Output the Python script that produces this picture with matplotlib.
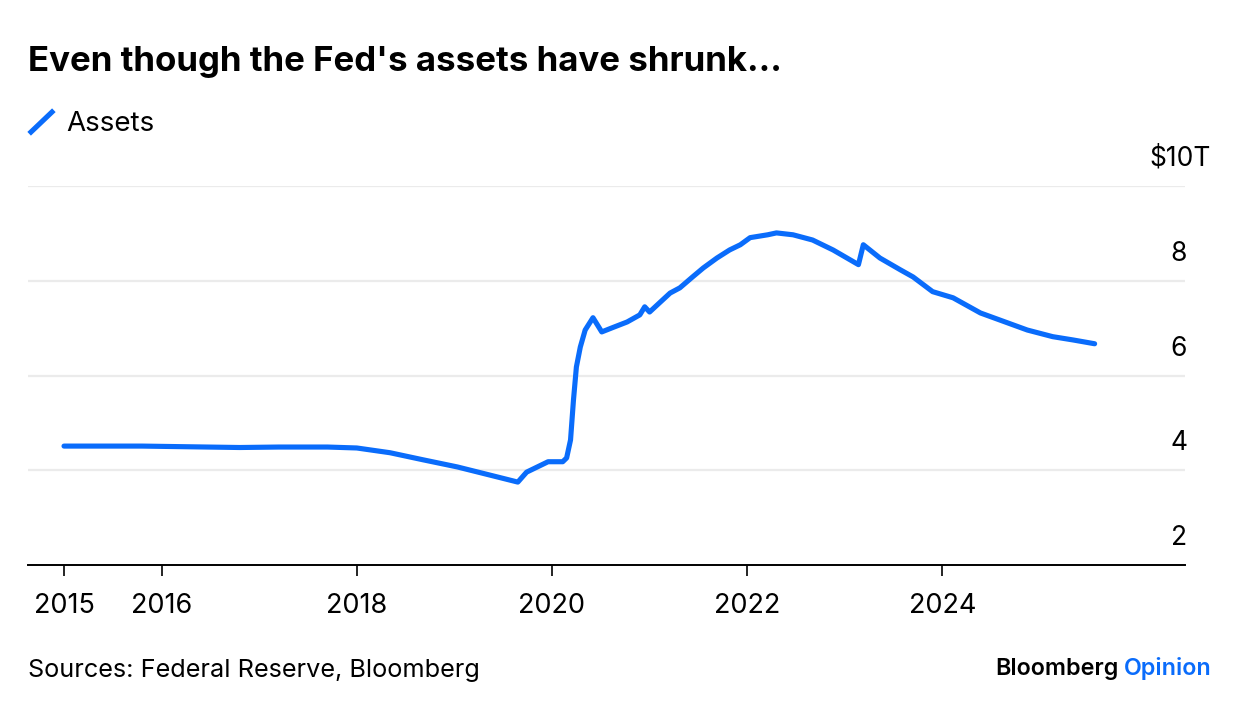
import matplotlib.pyplot as plt
from matplotlib.lines import Line2D
from matplotlib.transforms import offset_copy

plt.rcParams['font.family'] = ['Inter', 'DejaVu Sans']

# Fed total assets, $ trillions
years = [2015.0, 2015.8, 2016.8, 2017.2, 2017.7, 2018.0, 2018.34, 2018.68,
         2019.03, 2019.36, 2019.65, 2019.74, 2019.85, 2019.96,
         2020.11, 2020.15, 2020.19, 2020.22, 2020.25, 2020.29, 2020.34, 2020.42,
         2020.51, 2020.62, 2020.77, 2020.90, 2020.95, 2021.00, 2021.11, 2021.21,
         2021.31, 2021.44, 2021.55, 2021.69, 2021.82, 2021.93, 2022.03, 2022.21,
         2022.30, 2022.47, 2022.67, 2022.88, 2023.14, 2023.19, 2023.36, 2023.57,
         2023.70, 2023.90, 2024.11, 2024.39, 2024.59, 2024.87, 2025.13, 2025.34,
         2025.56]
assets = [4.51, 4.51, 4.48, 4.49, 4.49, 4.47, 4.37, 4.22,
          4.07, 3.90, 3.75, 3.96, 4.07, 4.18,
          4.18, 4.26, 4.64, 5.48, 6.18, 6.60, 6.96, 7.22,
          6.92, 7.01, 7.13, 7.28, 7.45, 7.34, 7.55, 7.74,
          7.85, 8.08, 8.27, 8.48, 8.65, 8.76, 8.91, 8.97,
          9.01, 8.97, 8.86, 8.65, 8.34, 8.76, 8.48, 8.23,
          8.08, 7.77, 7.64, 7.32, 7.17, 6.96, 6.82, 6.75,
          6.67]

xticks = [2015, 2016, 2018, 2020, 2022, 2024]
yticks = [2, 4, 6, 8, 10]
ylabels = ['2', '4', '6', '8', '$10T']

blue = '#0a6cfb'
W, H = 1240, 714

fig = plt.figure(figsize=(W / 100, H / 100), dpi=100)
ax = fig.add_axes([28 / W, 1 - 565 / H, (1185 - 28) / W, (565 - 186) / H])

ax.plot(years, assets, color=blue, lw=3.7, solid_joinstyle='round', solid_capstyle='round')

ax.set_xlim(2014.631, 2026.486)
ax.set_ylim(2, 10)

for v in yticks[1:]:
    ax.axhline(v, color='#ebebeb', lw=1.6, zorder=0)

for s in ['top', 'right', 'left']:
    ax.spines[s].set_visible(False)
ax.spines['bottom'].set_color('black')
ax.spines['bottom'].set_linewidth(1.4)

ax.set_xticks(xticks)
ax.set_xticklabels([str(t) for t in xticks])
ax.tick_params(axis='x', length=8, width=1.2, color='black', labelsize=19.5, pad=12)
ax.set_yticks([])

# y labels sit just above their gridlines, on the right
for v, lab in zip(yticks, ylabels):
    dx = 26 if lab.startswith('$') else 2
    tr = offset_copy(ax.get_yaxis_transform(), fig=fig, x=dx, y=14, units='dots')
    ax.text(1.0, v, lab, transform=tr, ha='right', va='bottom', fontsize=19, color='black')

fig.text(28 / W, 1 - 62 / H, "Even though the Fed's assets have shrunk...", fontsize=25.1,
         fontweight='bold', ha='left', va='center')

fig.add_artist(Line2D([31 / W, 52 / W], [1 - 132 / H, 1 - 112 / H], color=blue, lw=3.7,
                      transform=fig.transFigure))
fig.text(66 / W, 1 - 124 / H, 'Assets', fontsize=20, ha='left', va='center')

fig.text(28 / W, 1 - 671 / H, 'Sources: Federal Reserve, Bloomberg', fontsize=18.2,
         ha='left', va='center')
fig.text(995 / W, 1 - 669 / H, 'Bloomberg', fontsize=16.8, fontweight='semibold',
         ha='left', va='center')
fig.text(1212 / W, 1 - 669 / H, 'Opinion', fontsize=16.8, fontweight='semibold', color=blue,
         ha='right', va='center')

fig.savefig('out.png', dpi=100)
